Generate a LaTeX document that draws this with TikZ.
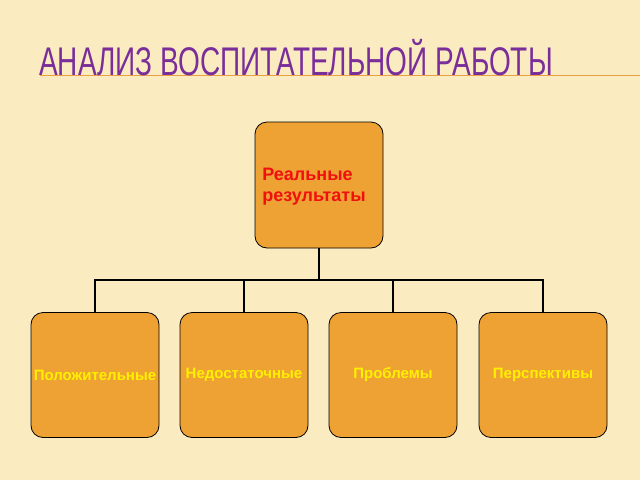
\documentclass[tikz,border=0pt]{standalone}
\usepackage{fontspec}
\setmainfont{Liberation Sans}
\begin{document}
\begin{tikzpicture}[x=1pt,y=-1pt,
  box/.style={draw=black,line width=0.8pt,fill=boxor,rounded corners=12pt,minimum width=128pt,minimum height=126pt,inner sep=1pt,align=center,font=\bfseries\fontsize{15}{18}\selectfont},
  link/.style={draw=black,line width=1.3pt}]
\definecolor{bg}{HTML}{FBEBC0}
\definecolor{boxor}{HTML}{EEA233}
\definecolor{ttl}{HTML}{7A2E9A}
\definecolor{lineor}{HTML}{E8A040}
\definecolor{yel}{HTML}{FFF000}
\definecolor{redt}{HTML}{F01010}
\fill[bg] (0,0) rectangle (640,480);
\useasboundingbox (0,0) rectangle (640,480);
\draw[lineor,line width=0.8pt] (40,75) -- (640,75);
\node[anchor=west,text=ttl,font=\fontsize{40}{42}\selectfont,xscale=0.70,inner sep=0] (title) at (39,58) {АНАЛИЗ ВОСПИТАТЕЛЬНОЙ РАБОТЫ};
\node[box,text=redt] (top) at (319,185) {};
\node[text=redt,font=\bfseries\fontsize{18}{21}\selectfont,align=left] (toplbl) at (314,187) {Реальные\\ результаты};
\node[box,text=yel,minimum height=125pt] (b1) at (95,375) {Положительные};
\node[box,text=yel,minimum height=125pt] (b2) at (244,375) {Недостаточные};
\node[box,text=yel,minimum height=125pt] (b3) at (393,375) {Проблемы};
\node[box,text=yel,minimum height=125pt] (b4) at (543,375) {Перспективы};
\coordinate (j) at (319,280);
\draw[link] (top.south) -- (j);
\draw[link] (b1.north) |- (j) -| (b4.north);
\draw[link] (b2.north) -- (b2.north |- j);
\draw[link] (b3.north) -- (b3.north |- j);
\end{tikzpicture}
\end{document}
